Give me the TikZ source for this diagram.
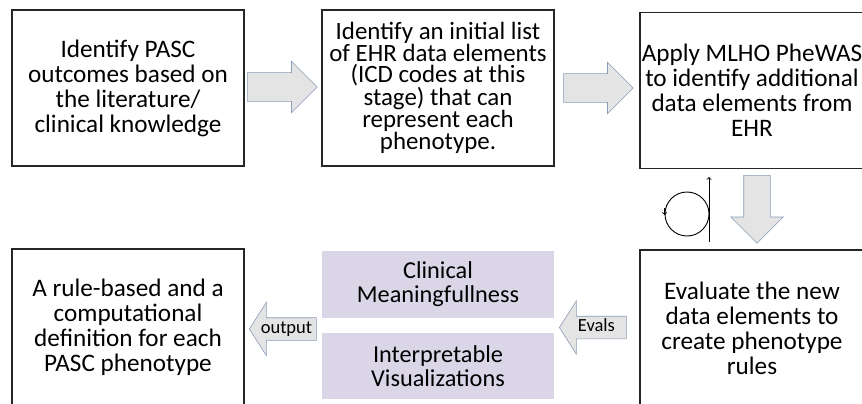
\documentclass[tikz,border=0pt]{standalone}
\usepackage{fontspec}
\setmainfont{Carlito}
\usetikzlibrary{shapes.arrows}
\definecolor{arrowfill}{HTML}{E4E4E4}
\definecolor{arrowline}{HTML}{8C9BB8}
\definecolor{evalfill}{HTML}{DAD6E8}
\tikzset{
  stepbox/.style={draw=black!85, line width=1.1pt, minimum width=232, minimum height=156, inner sep=0pt, align=center, font=\fontsize{25.2}{25}\selectfont},
  evalbox/.style={fill=evalfill, minimum width=232, inner sep=0pt, align=center, font=\fontsize{24.3}{24}\selectfont},
  blockarrow/.style={single arrow, draw=arrowline, fill=arrowfill, line width=0.6pt, inner sep=0pt, inner ysep=14pt, single arrow head extend=11.5pt, minimum height=70},
  textarrow/.style={single arrow, draw=arrowline, fill=arrowfill, line width=0.6pt, shape border rotate=180, single arrow tip angle=115, single arrow head extend=15.5pt, minimum height=67, inner xsep=0pt, inner ysep=4pt, text height=11pt, text depth=3pt, font=\fontsize{18.5}{20}\selectfont}
}
\begin{document}
\begin{tikzpicture}[x=1pt, y=-1pt, >=to]
\useasboundingbox (0,0) rectangle (862,404);

% top row
\node[stepbox] (pasc) at (128,88) {Identify PASC\\outcomes based on\\the literature/\\clinical knowledge};
\node[stepbox, font=\fontsize{24.9}{20.8}\selectfont] (icd) at (438,88) {Identify an initial list\\of EHR data elements\\(ICD codes at this\\stage) that can\\represent each\\phenotype.};
\node[stepbox, minimum width=224] (mlho) at (752,90.5) {Apply MLHO PheWAS\\to identify additional\\data elements from\\EHR};

% bottom row
\node[stepbox, minimum width=224] (rules) at (752,328) {Evaluate the new\\data elements to\\create phenotype\\rules};
\node[stepbox] (result) at (128,327) {A rule-based and a\\computational\\definition for each\\PASC phenotype};
\node[evalbox, minimum height=67] (clin) at (438,284.5) {Clinical\\Meaningfullness};
\node[evalbox, minimum height=66] (vis) at (438,366) {Interpretable\\Visualizations};

% block arrows
\node[blockarrow, anchor=tail] (arr1) at (247,87) {};
\node[blockarrow, anchor=tail] (arr2) at (563,88) {};
\node[blockarrow, anchor=tail, inner ysep=0pt, inner xsep=13pt, single arrow head extend=13pt, minimum height=68, shape border rotate=270] (arr3) at (757,175) {};
\node[textarrow, anchor=tip] (evals) at (559,327.5) {Evals};
\node[textarrow, anchor=tip] (output) at (249,329) {output};

% iteration symbol
\node[circle, draw, line width=0.9pt, minimum size=44, inner sep=0pt] (loop) at (687,214) {};
\coordinate (up0) at (709,242);
\coordinate (up1) at (709,177);
\draw[->, line width=0.9pt] (up0) -- (up1);
\draw[->, line width=0.9pt] ([yshift=6pt]loop.west) -- ([yshift=-1pt]loop.west);
\end{tikzpicture}
\end{document}
